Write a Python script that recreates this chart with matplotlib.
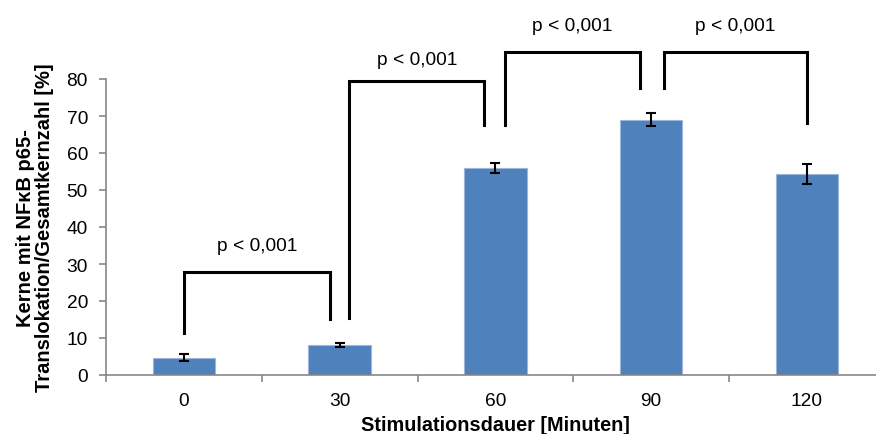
import matplotlib
matplotlib.use("Agg")
import matplotlib.pyplot as plt

plt.rcParams['font.family'] = ['Liberation Sans', 'DejaVu Sans']

categories = ["0", "30", "60", "90", "120"]
values = [4.7, 8.2, 56.0, 69.0, 54.2]
errors = [1.0, 0.55, 1.3, 1.8, 2.7]

# significance brackets: (left x, left bottom y, right x, right bottom y, top y, label)
brackets = [
    (0.0, 11.3, 0.94, 15.1, 27.9, "p < 0,001"),
    (1.06, 15.3, 1.93, 67.6, 79.4, "p < 0,001"),
    (2.06, 67.7, 2.93, 77.5, 87.2, "p < 0,001"),
    (3.08, 77.5, 4.0, 68.0, 87.2, "p < 0,001"),
]
label_offset = [7.0, 6.0, 7.2, 7.2]

W, H = 876, 435
fig = plt.figure(figsize=(W / 100, H / 100), dpi=100)
ax = fig.add_axes([106 / W, 59 / H, 778.75 / W, 296 / H])

x = list(range(len(categories)))
ax.bar(x, values, width=0.4, color='#4F81BD', edgecolor='#9db6d9', linewidth=0.8, zorder=2)
ax.errorbar(x, values, yerr=errors, fmt='none', ecolor='black', elinewidth=1.5,
            capsize=3.5, capthick=1.5, zorder=3)

ax.set_xlim(-0.5, 4.5)
ax.set_ylim(0, 80)
ax.set_yticks(range(0, 81, 10))
ax.set_xticks(x)
ax.set_xticklabels(categories)
ax.set_xticks([i - 0.5 for i in range(len(categories) + 1)], minor=True)
ax.tick_params(axis='x', which='major', length=0, pad=12, labelsize=13.8)
ax.tick_params(axis='x', which='minor', length=5, width=1.2, color='#878787', direction='out')
ax.tick_params(axis='y', length=5, width=1.2, color='#878787', direction='out', pad=8, labelsize=13.8)

for s in ['top', 'right']:
    ax.spines[s].set_visible(False)
for s in ['left', 'bottom']:
    ax.spines[s].set_color('#878787')
    ax.spines[s].set_linewidth(1.2)

for (x1, y1, x2, y2, yt, lab), off in zip(brackets, label_offset):
    ax.plot([x1, x1, x2, x2], [y1, yt, yt, y2], color='black', lw=2.2,
            clip_on=False, solid_joinstyle='miter', zorder=4)
    ax.text((x1 + x2) / 2, yt + off, lab, ha='center', va='center', fontsize=13.8,
            clip_on=False)

fig.text(495 / W, (H - 431) / H, "Stimulationsdauer [Minuten]", ha='center', va='baseline',
         fontsize=14.3, fontweight='bold')
fig.text(35 / W, (H - 228) / H, "Kerne mit NFκB p65-\nTranslokation/Gesamtkernzahl [%]",
         ha='center', va='center', rotation=90, fontsize=14.5, fontweight='bold',
         multialignment='center', linespacing=0.95)

fig.savefig("out.png", dpi=100)
